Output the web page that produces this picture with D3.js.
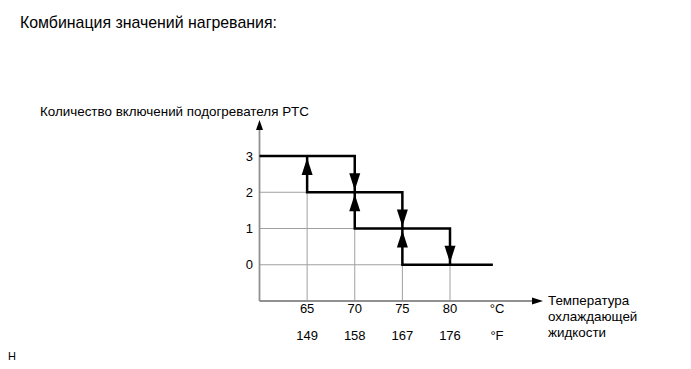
<!DOCTYPE html>
<html>
<head>
  <meta charset="utf-8">
  <title>PTC</title>
  <style>
  body { margin: 0; background: #fff; }
  text { font-family: "Liberation Sans", Arial, sans-serif; fill: #000; }
  </style>
</head>
<body>
  <svg width="691" height="369"></svg>
  <script src="https://d3js.org/d3.v7.min.js"></script>
  <script>
    var tempC = [65, 70, 75, 80];
    var tempF = [149, 158, 167, 176];
    var levels = [0, 1, 2, 3];
    // step line going down (temperature rising) and going up (temperature falling)
    var stepOff = [[60, 3], [70, 3], [70, 2], [75, 2], [75, 1], [80, 1], [80, 0]];
    var stepOn = [[65, 3], [65, 2], [70, 2], [70, 1], [75, 1], [75, 0], [84.5, 0]];
    var arrowsDown = [[70, 2], [75, 1], [80, 0]];
    var arrowsUp = [[65, 3], [70, 2], [75, 1]];
    var gridH = [[2, 65], [1, 70], [0, 75]];
    var gridV = [[65, 2], [70, 1], [75, 0], [80, 0]];

    var svg = d3.select("svg");
    var x = d3.scaleLinear().domain([60, 80]).range([259.5, 450]);
    var y = d3.scaleLinear().domain([-1, 3]).range([301, 156]);

    svg.append("text").attr("x", 20).attr("y", 28).style("font-size", "15.9px")
      .text("Комбинация значений нагревания:");
    svg.append("text").attr("x", 40).attr("y", 116).style("font-size", "13.4px")
      .text("Количество включений подогревателя PTC");

    // grid
    svg.selectAll(".gh").data(gridH).enter().append("line")
      .attr("x1", x(60)).attr("x2", d => x(d[1]))
      .attr("y1", d => y(d[0])).attr("y2", d => y(d[0]))
      .attr("stroke", "#a0a0a0").attr("stroke-width", 1);
    svg.selectAll(".gv").data(gridV).enter().append("line")
      .attr("x1", d => x(d[0])).attr("x2", d => x(d[0]))
      .attr("y1", y(-1)).attr("y2", d => y(d[1]))
      .attr("stroke", "#a0a0a0").attr("stroke-width", 1);

    // axes
    svg.append("line").attr("x1", x(60)).attr("x2", x(60)).attr("y1", y(-1)).attr("y2", 127)
      .attr("stroke", "#909090").attr("stroke-width", 1.8);
    svg.append("path").attr("d", "M" + x(60) + ",120 l-3.5,10 l7,0 z").attr("fill", "#000");
    svg.append("line").attr("x1", x(60)).attr("x2", 535).attr("y1", y(-1)).attr("y2", y(-1))
      .attr("stroke", "#909090").attr("stroke-width", 1.8);
    svg.append("path").attr("d", "M543," + y(-1) + " l-11,-3.5 l0,7 z").attr("fill", "#000");

    // steps
    var line = d3.line().x(d => x(d[0])).y(d => y(d[1]));
    [stepOff, stepOn].forEach(function (s) {
      svg.append("path").attr("d", line(s)).attr("fill", "none")
        .attr("stroke", "#000").attr("stroke-width", 2.5).attr("stroke-linejoin", "miter");
    });

    // arrows
    svg.selectAll(".ad").data(arrowsDown).enter().append("path")
      .attr("d", d => { var tx = x(d[0]), ty = y(d[1]) - 2; return "M" + tx + "," + ty + " l-5.5,-17 l11,0 z"; })
      .attr("fill", "#000");
    svg.selectAll(".au").data(arrowsUp).enter().append("path")
      .attr("d", d => { var tx = x(d[0]), ty = y(d[1]) + 2; return "M" + tx + "," + ty + " l-5.5,17 l11,0 z"; })
      .attr("fill", "#000");

    // tick labels
    svg.selectAll(".yl").data(levels).enter().append("text")
      .attr("x", 253).attr("y", d => y(d) + 4.5).attr("text-anchor", "end")
      .style("font-size", "13px").text(d => d);
    svg.selectAll(".xc").data(tempC).enter().append("text")
      .attr("x", d => x(d)).attr("y", 313).attr("text-anchor", "middle")
      .style("font-size", "13px").text(d => d);
    svg.selectAll(".xf").data(tempF).enter().append("text")
      .attr("x", (d, i) => x(tempC[i])).attr("y", 340).attr("text-anchor", "middle")
      .style("font-size", "13px").text(d => d);
    svg.append("text").attr("x", 497).attr("y", 313).attr("text-anchor", "middle")
      .style("font-size", "13px").text("°C");
    svg.append("text").attr("x", 497).attr("y", 340).attr("text-anchor", "middle")
      .style("font-size", "13px").text("°F");

    svg.append("text").attr("x", 548).attr("y", 305).style("font-size", "13.4px")
      .selectAll("tspan").data(["Температура", "охлаждающей", "жидкости"]).enter().append("tspan")
      .attr("x", 548).attr("dy", (d, i) => i ? 16 : 0).text(d => d);

    svg.append("text").attr("x", 8).attr("y", 360).style("font-size", "11px").text("H");
  </script>
</body>
</html>
